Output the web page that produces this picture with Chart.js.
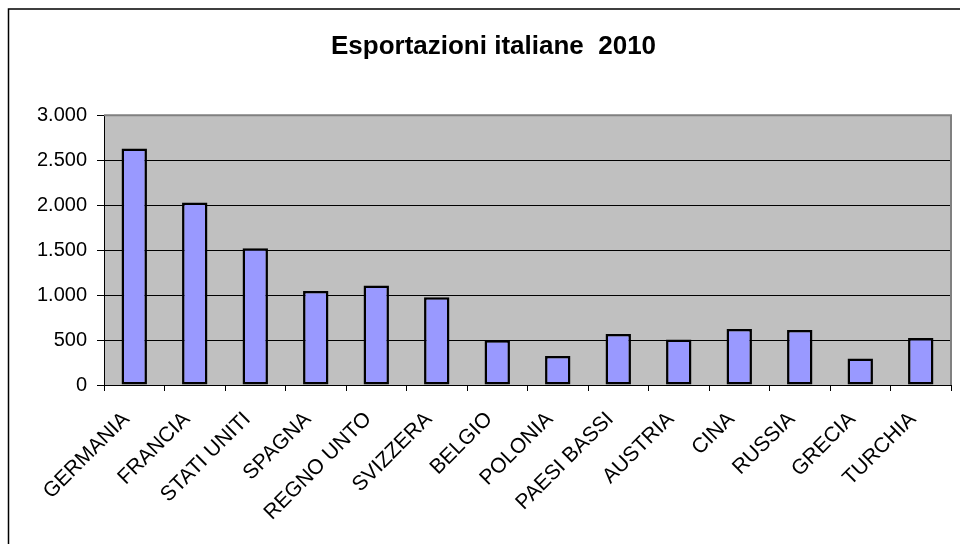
<!DOCTYPE html>
<html>
<head>
<meta charset="utf-8">
<script src="https://cdn.jsdelivr.net/npm/chart.js@4"></script>
<style>
  body { margin: 0; background: #ffffff; }
</style>
</head>
<body>
<canvas id="bar-chart" width="960" height="544"></canvas>
<script>
  var paesi = ["GERMANIA", "FRANCIA", "STATI UNITI", "SPAGNA", "REGNO UNTO", "SVIZZERA", "BELGIO",
               "POLONIA", "PAESI BASSI", "AUSTRIA", "CINA", "RUSSIA", "GRECIA", "TURCHIA"];
  var esportazioni = [2630, 2030, 1520, 1045, 1105, 975, 497, 322, 567, 507, 622, 611, 296, 522];
  var titolo = "Esportazioni italiane  2010";
  var yMax = 3000;
  var yPasso = 500;

  // numeri con il punto per le migliaia
  function formattaNumero(v){
    return String(v).replace(/\B(?=(\d{3})+(?!\d))/g, ".");
  }

  // sfondo grigio dell'area del grafico e cornice esterna
  var sfondoPlugin = {
    id: "sfondo",
    beforeDraw: function(chart){
      var ctx = chart.ctx;
      var a = chart.chartArea;
      ctx.save();
      ctx.fillStyle = "#ffffff";
      ctx.fillRect(0, 0, chart.width, chart.height);
      ctx.strokeStyle = "#000000";
      ctx.lineWidth = 1.5;
      ctx.beginPath();
      ctx.moveTo(8.5, chart.height + 2);
      ctx.lineTo(8.5, 9);
      ctx.lineTo(chart.width + 2, 9);
      ctx.stroke();
      ctx.fillStyle = "#c0c0c0";
      ctx.fillRect(a.left, a.top, a.right - a.left, a.bottom - a.top);
      ctx.restore();
    },
    afterDraw: function(chart){
      var ctx = chart.ctx;
      var a = chart.chartArea;
      ctx.save();
      ctx.strokeStyle = "#808080";
      ctx.lineWidth = 2;
      ctx.beginPath();
      ctx.moveTo(a.left, a.top);
      ctx.lineTo(a.right, a.top);
      ctx.lineTo(a.right, a.bottom);
      ctx.stroke();
      ctx.restore();
    }
  };

  var mChart = new Chart(document.getElementById("bar-chart"), {
    type: "bar",
    data: {
      labels: paesi,
      datasets: [{
        data: esportazioni,
        backgroundColor: "#9999ff",
        borderColor: "#000000",
        borderWidth: 2.5,
        borderSkipped: false,
        barPercentage: 0.42,
        categoryPercentage: 1
      }]
    },
    options: {
      responsive: false,
      devicePixelRatio: 1,
      animation: false,
      layout: { padding: { left: 36, right: 9, top: 0, bottom: 0 } },
      plugins: {
        legend: { display: false },
        tooltip: { enabled: false },
        title: {
          display: true,
          text: titolo,
          color: "#000000",
          font: { family: "Liberation Sans, Arial, sans-serif", size: 26, weight: "bold" },
          padding: { top: 31, bottom: 53 }
        }
      },
      scales: {
        x: {
          grid: {
            offset: true,
            drawOnChartArea: false,
            drawTicks: true,
            tickLength: 6,
            tickColor: "#000000"
          },
          border: { color: "#000000", width: 1 },
          ticks: {
            minRotation: 45,
            maxRotation: 45,
            autoSkip: false,
            padding: 16,
            labelOffset: -8,
            color: "#000000",
            font: { family: "Liberation Sans, Arial, sans-serif", size: 21 }
          },
          afterFit: function(s){
            s.height = 159;
            s.paddingLeft = 0;
            s.paddingRight = 0;
          }
        },
        y: {
          min: 0,
          max: yMax,
          grid: {
            color: function(c){ return c.tick && c.tick.value === yMax ? "#808080" : "#000000"; },
            tickColor: "#000000",
            tickLength: 7,
            lineWidth: 1
          },
          border: { color: "#000000", width: 1 },
          ticks: {
            stepSize: yPasso,
            padding: 10,
            color: "#000000",
            font: { family: "Liberation Sans, Arial, sans-serif", size: 20 },
            callback: function(v){ return formattaNumero(v); }
          },
          afterFit: function(s){
            s.width = 68;
          }
        }
      }
    },
    plugins: [sfondoPlugin]
  });
</script>
</body>
</html>
